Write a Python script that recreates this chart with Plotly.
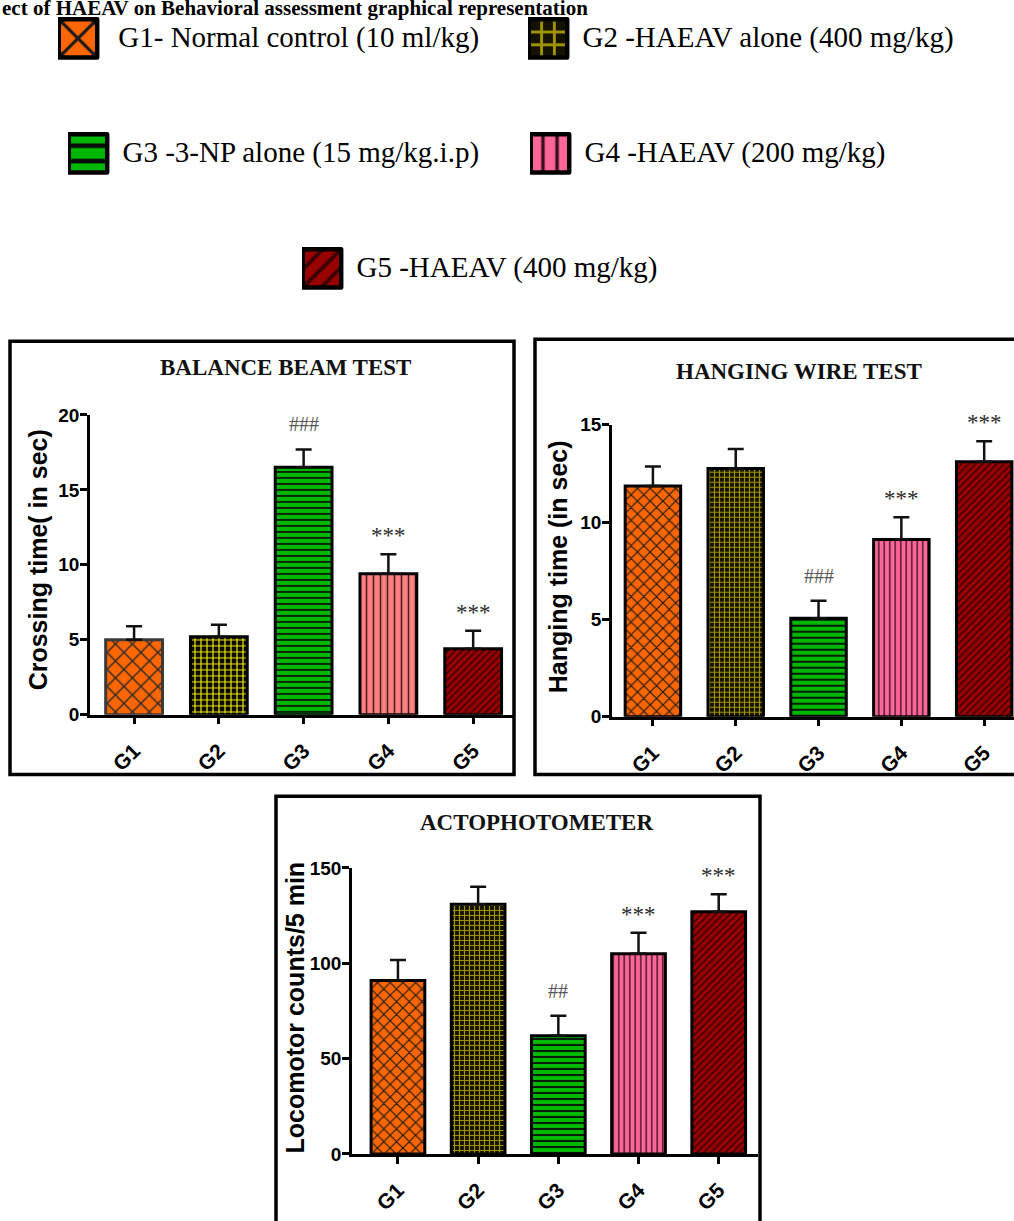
import plotly.graph_objects as go

# ---------------- data ----------------
groups = ["G1", "G2", "G3", "G4", "G5"]
legend_labels = [
    "G1- Normal control (10 ml/kg)",
    "G2 -HAEAV alone (400 mg/kg)",
    "G3 -3-NP alone (15 mg/kg.i.p)",
    "G4 -HAEAV (200 mg/kg)",
    "G5 -HAEAV (400 mg/kg)",
]

balance_mean = [5.0, 5.2, 16.5, 9.4, 4.4]
balance_sem = [0.9, 0.8, 1.2, 1.3, 1.2]
balance_sig = ["", "", "###", "***", "***"]

hanging_mean = [11.85, 12.75, 5.05, 9.1, 13.1]
hanging_sem = [1.0, 1.0, 0.9, 1.15, 1.05]
hanging_sig = ["", "", "###", "***", "***"]

acto_mean = [91, 131, 62, 105, 127]
acto_sem = [10.8, 9.1, 10.5, 11.0, 9.2]
acto_sig = ["", "", "##", "***", "***"]

y_ticks_balance = [0, 5, 10, 15, 20]
y_ticks_hanging = [0, 5, 10, 15]
y_ticks_acto = [0, 50, 100, 150]

# ---------------- geometry helpers ----------------
W, H = 1014, 1221


def px(x):
    return x / W


def py(y):
    return 1 - y / H


SERIF = "Liberation Serif, Times New Roman, serif"
SANS = "Liberation Sans, Arial, sans-serif"

# bar styles: panel 1 (balance) and panels 2/3
style_p1 = [
    dict(bg="#FF6600", fg="#2a2a2a", shape="x", size=12, sol=0.22, line="#3a3a3a"),
    dict(bg="#0a0a00", fg="#F2EE00", shape="+", size=6, sol=0.35, line="#000000"),
    dict(bg="#00B800", fg="#0a0a0a", shape="-", size=6, sol=0.28, line="#000000"),
    dict(bg="#FF8080", fg="#4a1c1c", shape="|", size=7, sol=0.22, line="#000000"),
    dict(bg="#990000", fg="#3a0000", shape="/", size=5, sol=0.3, line="#000000"),
]
style_p23 = [
    dict(bg="#FF6600", fg="#1a1a1a", shape="x", size=9, sol=0.25, line="#000000"),
    dict(bg="#151300", fg="#A09300", shape="+", size=5, sol=0.4, line="#000000"),
    dict(bg="#00B800", fg="#0a0a0a", shape="-", size=6, sol=0.3, line="#000000"),
    dict(bg="#FF6699", fg="#3a1020", shape="|", size=5.5, sol=0.25, line="#000000"),
    dict(bg="#990000", fg="#3a0000", shape="/", size=5, sol=0.3, line="#000000"),
]

panels = [
    dict(mean=balance_mean, sem=balance_sem, sig=balance_sig, styles=style_p1,
         xa="x", ya="y", xdom=[px(90), px(513)], xr=[-0.52, 4.47],
         ydom=[py(717), py(412)], yr=[0, 20], yticks=y_ticks_balance,
         title="BALANCE BEAM TEST", tpos=(285, 364),
         ytitle="Crossing time( in sec)", ytpos=(38, 560),
         box=(10, 337, 514, 778), legend=False),
    dict(mean=hanging_mean, sem=hanging_sem, sig=hanging_sig, styles=style_p23,
         xa="x2", ya="y2", xdom=[px(612), 1.0], xr=[-0.494, 4.36],
         ydom=[py(719), py(422)], yr=[0, 15], yticks=y_ticks_hanging,
         title="HANGING WIRE TEST", tpos=(799, 368),
         ytitle="Hanging time (in sec)", ytpos=(558, 567),
         box=(535, 335, 1040, 778), legend=True),
    dict(mean=acto_mean, sem=acto_sem, sig=acto_sig, styles=style_p23,
         xa="x3", ya="y3", xdom=[px(352), px(758)], xr=[-0.573, 4.49],
         ydom=[py(1164), py(873)], yr=[0, 150], yticks=y_ticks_acto,
         title="ACTOPHOTOMETER", tpos=(536, 827),
         ytitle="Locomotor counts/5 min", ytpos=(295, 1015),
         box=(276, 800, 760, 1240), legend=False),
]

legend_names = ["legend", "legend2", "legend3", "legend4", "legend5"]
# legend key left edge (px) and text centre line (px)
legend_left = [58, 528, 68, 530, 302]
legend_text_y = [36, 36, 153, 153, 270]
legend_pad = ["\u2002\u2009", "\u2002", "\u2002", "\u2002", "\u2002"]

fig = go.Figure()
annotations = []
shapes = []

for p in panels:
    for i, g in enumerate(groups):
        s = p["styles"][i]
        fig.add_trace(go.Bar(
            x=[g], y=[p["mean"][i]],
            xaxis=p["xa"], yaxis=p["ya"],
            width=0.67,
            name=legend_pad[i] + legend_labels[i],
            showlegend=p["legend"],
            legend=legend_names[i],
            marker=dict(
                color=s["bg"],
                line=dict(color=s["line"], width=3),
                pattern=dict(shape=s["shape"], fgcolor=s["fg"], bgcolor=s["bg"],
                             size=s["size"], solidity=s["sol"], fillmode="replace"),
            ),
            error_y=dict(type="data", symmetric=False, array=[p["sem"][i]],
                         arrayminus=[0], color="#111111", thickness=2.5, width=8),
            hoverinfo="skip",
        ))
        if p["sig"][i]:
            is_hash = "#" in p["sig"][i]
            annotations.append(dict(
                x=g, y=p["mean"][i] + p["sem"][i], xref=p["xa"], yref=p["ya"],
                text=p["sig"][i], showarrow=False, yanchor="bottom",
                yshift=12 if is_hash else 4,
                font=dict(family=SERIF, size=20 if is_hash else 23,
                          color="#555555" if is_hash else "#2a2a2a"),
            ))
    annotations.append(dict(
        x=px(p["tpos"][0]), y=py(p["tpos"][1]), xref="paper", yref="paper",
        text=p["title"], showarrow=False, xanchor="center", yanchor="middle",
        font=dict(family=SERIF, size=23, color="#111111", weight="bold"),
    ))
    annotations.append(dict(
        x=px(p["ytpos"][0]), y=py(p["ytpos"][1]), xref="paper", yref="paper",
        text=p["ytitle"], showarrow=False, textangle=-90,
        xanchor="center", yanchor="middle",
        font=dict(family=SANS, size=25, color="#000000", weight="bold"),
    ))
    bx = p["box"]
    shapes.append(dict(type="rect", xref="paper", yref="paper",
                       x0=px(bx[0]), x1=px(bx[2]), y0=py(bx[3]), y1=py(bx[1]),
                       line=dict(color="#000000", width=3.5), fillcolor="rgba(0,0,0,0)"))

# figure title (cut off at the top-left in the original)
annotations.append(dict(
    x=px(0), y=py(-2), xref="paper", yref="paper",
    text="ect of HAEAV on Behavioral assessment graphical representation",
    showarrow=False, xanchor="left", yanchor="middle",
    font=dict(family=SERIF, size=21, color="#000000", weight="bold"),
))

axis_common = dict(
    showline=True, linecolor="#000000", linewidth=2.5,
    ticks="outside", ticklen=7, tickwidth=2.5, tickcolor="#000000",
    showgrid=False, zeroline=False, fixedrange=True,
)

layout = dict(
    width=W, height=H,
    margin=dict(l=0, r=0, t=0, b=0),
    paper_bgcolor="white", plot_bgcolor="white",
    barmode="overlay",
    annotations=annotations, shapes=shapes,
)

for k, p in enumerate(panels):
    sfx = "" if k == 0 else str(k + 1)
    layout["xaxis" + sfx] = dict(
        axis_common, domain=p["xdom"], range=p["xr"], anchor=p["ya"],
        type="category", categoryorder="array", categoryarray=groups,
        tickangle=-45, ticklabelstandoff=6,
        tickfont=dict(family=SANS, size=21, color="#000000", weight="bold"),
    )
    layout["yaxis" + sfx] = dict(
        axis_common, domain=p["ydom"], range=p["yr"], anchor=p["xa"],
        tickvals=p["yticks"], ticklabelstandoff=-3,
        tickfont=dict(family=SANS, size=19, color="#000000", weight="bold"),
    )

for i, ln in enumerate(legend_names):
    layout[ln] = dict(
        x=px(legend_left[i]), xanchor="left",
        y=py(legend_text_y[i] - 10), yanchor="middle",
        bgcolor="rgba(0,0,0,0)", borderwidth=0,
        font=dict(family=SERIF, size=29, color="#000000"),
    )

fig.update_layout(**layout)

# enlarge the legend keys to the big framed swatches of the original
post_js = """
document.body.style.margin='0px';
document.querySelectorAll('g.legendpoints path').forEach(function(p){
  var t = p.getAttribute('transform') || '';
  p.setAttribute('transform', t + ' translate(0,3) scale(3.2)');
  p.style.strokeWidth = '1.4px';
  p.style.stroke = '#000000';
  p.style.strokeLinejoin = 'round';
});
"""

fig.write_html("out.html", config={"displayModeBar": False}, post_script=post_js)
